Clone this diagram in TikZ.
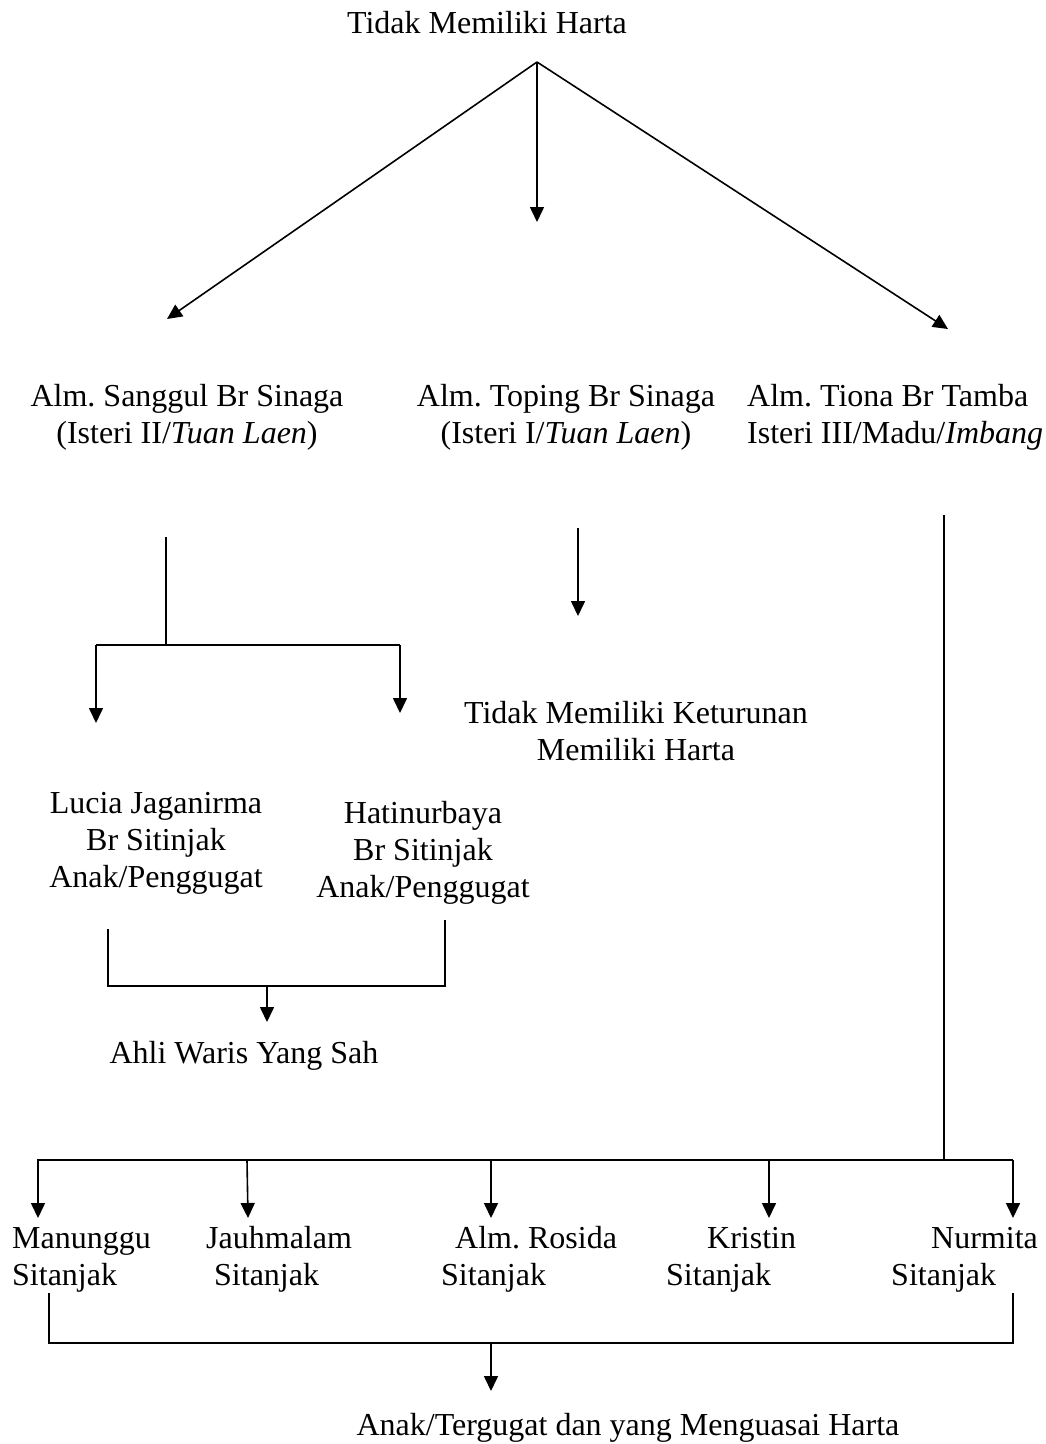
\documentclass[tikz,border=0pt]{standalone}
\usepackage{fontspec}
\setmainfont{Liberation Serif}
\usetikzlibrary{arrows.meta}
\frenchspacing
\begin{document}
\begin{tikzpicture}[x=1pt,y=-1pt,
  lbl/.style={inner sep=0pt,font=\fontsize{32}{37}\selectfont,anchor=base},
  lblc/.style={lbl,align=center},
  lbll/.style={lbl,align=left,anchor=base west},
  ln/.style={line width=1.6pt},
  arr/.style={ln,-{Triangle[length=15pt,width=14pt]}}]
\useasboundingbox (0,0) rectangle (1045,1444);
% texts (base anchor of multi-line nodes = baseline of last line)
\node[lbl] (title) at (487,33) {Tidak Memiliki Harta};
\node[lblc] (sanggul) at (187,443) {Alm. Sanggul Br Sinaga\\(Isteri II/\textit{Tuan Laen})};
\node[lblc] (toping) at (566,443) {Alm. Toping Br Sinaga\\(Isteri I/\textit{Tuan Laen})};
\node[lbll] (tiona) at (747,443) {Alm. Tiona Br Tamba\\Isteri III/Madu/\textit{Imbang}};
\node[lblc] (ket) at (636,760) {Tidak Memiliki Keturunan\\Memiliki Harta};
\node[lblc] (lucia) at (156,887) {Lucia Jaganirma\\Br Sitinjak\\Anak/Penggugat};
\node[lblc] (hati) at (423,897) {Hatinurbaya\\Br Sitinjak\\Anak/Penggugat};
\node[lbl] (ahli) at (244,1063) {Ahli Waris Yang Sah};
\node[lbll] (manu) at (12,1285) {Manunggu\\Sitanjak};
\node[lbll] (jauh) at (206,1285) {Jauhmalam\\\hspace*{8pt}Sitanjak};
\node[lbll] (rosi) at (441,1285) {\hspace*{14pt}Alm. Rosida\\Sitanjak};
\node[lbll] (kris) at (666,1285) {\hspace*{41pt}Kristin\\Sitanjak};
\node[lbll] (nurm) at (891,1285) {\hspace*{40pt}Nurmita\\Sitanjak};
\node[lbl] (final) at (628,1435) {Anak/Tergugat dan yang Menguasai Harta};
% coordinates
\coordinate (apex) at (537,62);
\coordinate (tC) at (537,222);
\coordinate (tL) at (167,319);
\coordinate (tR) at (948,329);
\coordinate (s1) at (166,537);
\coordinate (s2) at (166,645);
\coordinate (sL) at (96,645);
\coordinate (sR) at (400,645);
\coordinate (sLt) at (96,723);
\coordinate (sRt) at (400,713);
\coordinate (p1) at (578,528);
\coordinate (p2) at (578,616);
\coordinate (r1) at (944,515);
\coordinate (r2) at (944,1160);
\coordinate (bL) at (108,929);
\coordinate (bLb) at (108,986);
\coordinate (bR) at (445,920);
\coordinate (bRb) at (445,986);
\coordinate (bM) at (267,986);
\coordinate (bMt) at (267,1022);
\coordinate (hL) at (37,1160);
\coordinate (hR) at (1013,1160);
\coordinate (c1) at (38,1160);   \coordinate (c1t) at (38,1218);
\coordinate (c2) at (247,1160);  \coordinate (c2t) at (248,1218);
\coordinate (c3) at (491,1160);  \coordinate (c3t) at (491,1218);
\coordinate (c4) at (769,1160);  \coordinate (c4t) at (769,1218);
\coordinate (c5) at (1013,1160); \coordinate (c5t) at (1013,1218);
\coordinate (gL) at (49,1293);
\coordinate (gLb) at (49,1343);
\coordinate (gR) at (1013,1293);
\coordinate (gRb) at (1013,1343);
\coordinate (gM) at (491,1343);
\coordinate (gMt) at (491,1391);
% connectors
\draw[arr] (apex) -- (tC);
\draw[arr] (apex) -- (tL);
\draw[arr] (apex) -- (tR);
\draw[ln] (s1) -- (s2);
\draw[ln] (sL) -- (sR);
\draw[arr] (sL) -- (sLt);
\draw[arr] (sR) -- (sRt);
\draw[arr] (p1) -- (p2);
\draw[ln] (r1) -- (r2);
\draw[ln] (bL) -- (bLb) -- (bRb) -- (bR);
\draw[arr] (bM) -- (bMt);
\draw[ln] (hL) -- (hR);
\draw[arr] (c1) -- (c1t);
\draw[arr] (c2) -- (c2t);
\draw[arr] (c3) -- (c3t);
\draw[arr] (c4) -- (c4t);
\draw[arr] (c5) -- (c5t);
\draw[ln] (gL) -- (gLb) -- (gRb) -- (gR);
\draw[arr] (gM) -- (gMt);
\end{tikzpicture}
\end{document}
